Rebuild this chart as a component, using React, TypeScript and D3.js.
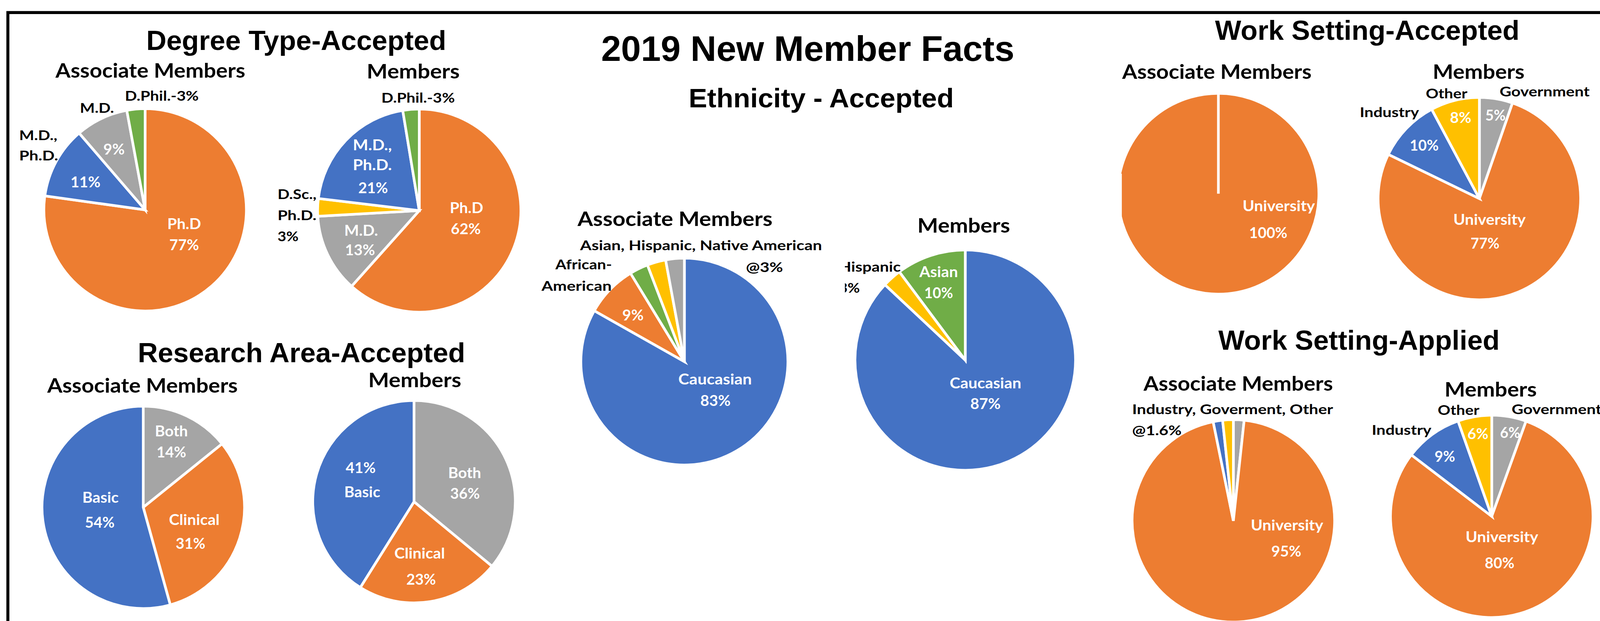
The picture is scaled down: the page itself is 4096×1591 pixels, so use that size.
import React from "react";
import * as d3 from "d3";

// colours (Office palette)
const ORANGE = "#ED7D31";
const BLUE = "#4472C4";
const GRAY = "#A5A5A5";
const YELLOW = "#FFC000";
const GREEN = "#70AD47";

// ---- data (clockwise from 12 o'clock) ----
const degreeAssocCategories = ["Ph.D", "M.D., Ph.D.", "M.D.", "D.Phil."];
const degreeAssocValues = [77.2, 11.5, 8.4, 2.9];

const degreeMemberCategories = ["Ph.D", "M.D.", "D.Sc., Ph.D.", "M.D., Ph.D.", "D.Phil."];
const degreeMemberValues = [61.6, 12.5, 2.8, 20.5, 2.6];

const researchCategories = ["Both", "Clinical", "Basic"];
const researchAssocValues = [14.2, 31.5, 54.3];
const researchMemberValues = [36, 22.9, 41.1];

const ethnicityAssocCategories = ["Caucasian", "African-American", "Asian", "Hispanic", "Native American"];
const ethnicityAssocValues = [83.1, 8.1, 2.9, 2.9, 2.9];
const ethnicityMemberCategories = ["Caucasian", "Hispanic", "Asian"];
const ethnicityMemberValues = [87, 2.8, 10.2];

const workCategories = ["Government", "University", "Industry", "Other"];
const workAcceptedAssocCategories = ["University"];
const workAcceptedAssocValues = [100];
const workAcceptedMemberValues = [5.3, 76.9, 10, 7.8];
const workAppliedAssocValues = [1.7, 95.1, 1.5, 1.7];
const workAppliedMemberValues = [5.5, 79.9, 9.2, 5.4];

const colorOf: Record<string, string> = {
  "Ph.D": ORANGE,
  "M.D., Ph.D.": BLUE,
  "M.D.": GRAY,
  "D.Phil.": GREEN,
  "D.Sc., Ph.D.": YELLOW,
  Both: GRAY,
  Clinical: ORANGE,
  Basic: BLUE,
  Caucasian: BLUE,
  "African-American": ORANGE,
  Asian: GREEN,
  Hispanic: YELLOW,
  "Native American": GRAY,
  Government: GRAY,
  University: ORANGE,
  Industry: BLUE,
  Other: YELLOW,
};

const TITLE_FONT = "'Liberation Sans', Arial, sans-serif";
const LABEL_FONT = "Lato, 'Open Sans', sans-serif";
const SIZE = { s: 53, b: 36, w: 39 } as const;

type Lbl = { t: string; x: number; y: number; w: number; a?: "start" | "middle" | "end"; k: "s" | "b" | "w"; clip?: string };

// ---- layout (reference pixel space) ----
const titles = [
  { t: "2019 New Member Facts", x: 2154, y: 163, w: 1102, size: 95 },
  { t: "Degree Type-Accepted", x: 790, y: 133, w: 800, size: 74 },
  { t: "Research Area-Accepted", x: 804, y: 967, w: 873, size: 74 },
  { t: "Ethnicity - Accepted", x: 2190, y: 286, w: 707, size: 72 },
  { t: "Work Setting-Accepted", x: 3646, y: 106, w: 812, size: 74 },
  { t: "Work Setting-Applied", x: 3624, y: 933, w: 750, size: 74 },
];

const pies = [
  { cx: 387, cy: 560, r: 270, cats: degreeAssocCategories, vals: degreeAssocValues },
  { cx: 1118, cy: 562, r: 271, cats: degreeMemberCategories, vals: degreeMemberValues },
  { cx: 382, cy: 1354, r: 270, cats: researchCategories, vals: researchAssocValues },
  { cx: 1104, cy: 1339, r: 270, cats: researchCategories, vals: researchMemberValues },
  { cx: 1825, cy: 965, r: 276, cats: ethnicityAssocCategories, vals: ethnicityAssocValues },
  { cx: 2574, cy: 961, r: 294, cats: ethnicityMemberCategories, vals: ethnicityMemberValues },
  { cx: 3249, cy: 517, r: 268, cats: workAcceptedAssocCategories, vals: workAcceptedAssocValues },
  { cx: 3945, cy: 530, r: 270, cats: workCategories, vals: workAcceptedMemberValues },
  { cx: 3289, cy: 1390, r: 270, cats: workCategories, vals: workAppliedAssocValues },
  { cx: 3978, cy: 1378, r: 270, cats: workCategories, vals: workAppliedMemberValues },
];

const labels: Lbl[] = [
  // degree
  { t: "Associate Members", x: 401, y: 207, w: 506, k: "s" },
  { t: "Members", x: 1102, y: 209, w: 248, k: "s" },
  { t: "D.Phil.-3%", x: 333, y: 269, w: 197, a: "start", k: "b" },
  { t: "M.D.", x: 213, y: 301, w: 91, a: "start", k: "b" },
  { t: "M.D.,", x: 51, y: 374, w: 102, a: "start", k: "b" },
  { t: "Ph.D.", x: 51, y: 428, w: 104, a: "start", k: "b" },
  { t: "9%", x: 304, y: 413, w: 57, k: "w" },
  { t: "11%", x: 228, y: 500, w: 80, k: "w" },
  { t: "Ph.D", x: 491, y: 611, w: 90, k: "w" },
  { t: "77%", x: 491, y: 668, w: 79, k: "w" },
  { t: "D.Phil.-3%", x: 1017, y: 274, w: 196, a: "start", k: "b" },
  { t: "M.D.,", x: 993, y: 401, w: 104, k: "w" },
  { t: "Ph.D.", x: 993, y: 454, w: 104, k: "w" },
  { t: "21%", x: 995, y: 516, w: 79, k: "w" },
  { t: "Ph.D", x: 1244, y: 569, w: 89, k: "w" },
  { t: "62%", x: 1242, y: 625, w: 80, k: "w" },
  { t: "M.D.", x: 963, y: 629, w: 90, k: "w" },
  { t: "13%", x: 960, y: 681, w: 80, k: "w" },
  { t: "D.Sc.,", x: 740, y: 531, w: 104, a: "start", k: "b" },
  { t: "Ph.D.", x: 740, y: 587, w: 104, a: "start", k: "b" },
  { t: "3%", x: 740, y: 644, w: 56, a: "start", k: "b" },
  // research
  { t: "Associate Members", x: 380, y: 1048, w: 508, k: "s" },
  { t: "Members", x: 1106, y: 1033, w: 248, k: "s" },
  { t: "Both", x: 457, y: 1165, w: 88, k: "w" },
  { t: "14%", x: 457, y: 1221, w: 79, k: "w" },
  { t: "Basic", x: 268, y: 1342, w: 97, k: "w" },
  { t: "54%", x: 266, y: 1408, w: 79, k: "w" },
  { t: "Clinical", x: 518, y: 1401, w: 135, k: "w" },
  { t: "31%", x: 508, y: 1465, w: 79, k: "w" },
  { t: "41%", x: 962, y: 1262, w: 80, k: "w" },
  { t: "Basic", x: 966, y: 1327, w: 96, k: "w" },
  { t: "Both", x: 1239, y: 1276, w: 88, k: "w" },
  { t: "36%", x: 1240, y: 1331, w: 79, k: "w" },
  { t: "Clinical", x: 1119, y: 1491, w: 135, k: "w" },
  { t: "23%", x: 1123, y: 1560, w: 79, k: "w" },
  // ethnicity
  { t: "Associate Members", x: 1800, y: 603, w: 520, k: "s" },
  { t: "Members", x: 2570, y: 621, w: 247, k: "s" },
  { t: "Asian, Hispanic, Native American", x: 1547, y: 668, w: 645, a: "start", k: "b" },
  { t: "@3%", x: 1989, y: 726, w: 99, a: "start", k: "b" },
  { t: "African-", x: 1632, y: 719, w: 151, a: "end", k: "b" },
  { t: "American", x: 1631, y: 776, w: 187, a: "end", k: "b" },
  { t: "9%", x: 1688, y: 855, w: 57, k: "w" },
  { t: "Caucasian", x: 1907, y: 1026, w: 196, k: "w" },
  { t: "83%", x: 1908, y: 1083, w: 81, k: "w" },
  { t: "Asian", x: 2503, y: 740, w: 103, k: "w" },
  { t: "10%", x: 2503, y: 796, w: 77, k: "w" },
  { t: "Hispanic", x: 2237, y: 725, w: 165, a: "start", k: "b", clip: "url(#hispClip)" },
  { t: "3%", x: 2237, y: 781, w: 56, a: "start", k: "b", clip: "url(#hispClip)" },
  { t: "Caucasian", x: 2628, y: 1036, w: 191, k: "w" },
  { t: "87%", x: 2628, y: 1092, w: 81, k: "w" },
  // work setting accepted
  { t: "Associate Members", x: 3245, y: 210, w: 505, k: "s" },
  { t: "Members", x: 3943, y: 210, w: 245, k: "s" },
  { t: "University", x: 3410, y: 564, w: 193, k: "w" },
  { t: "100%", x: 3382, y: 635, w: 102, k: "w" },
  { t: "Government", x: 3999, y: 257, w: 240, a: "start", k: "b" },
  { t: "Other", x: 3802, y: 262, w: 111, a: "start", k: "b" },
  { t: "Industry", x: 3626, y: 313, w: 158, a: "start", k: "b" },
  { t: "8%", x: 3895, y: 328, w: 57, k: "w" },
  { t: "5%", x: 3988, y: 322, w: 54, k: "w" },
  { t: "10%", x: 3798, y: 402, w: 77, k: "w" },
  { t: "University", x: 3972, y: 600, w: 193, k: "w" },
  { t: "77%", x: 3960, y: 664, w: 77, k: "w" },
  // work setting applied
  { t: "Associate Members", x: 3302, y: 1043, w: 505, k: "s" },
  { t: "Members", x: 3975, y: 1058, w: 246, k: "s" },
  { t: "Industry, Goverment, Other", x: 3019, y: 1105, w: 536, a: "start", k: "b" },
  { t: "@1.6%", x: 3019, y: 1161, w: 132, a: "start", k: "b" },
  { t: "University", x: 3432, y: 1416, w: 193, k: "w" },
  { t: "95%", x: 3430, y: 1485, w: 80, k: "w" },
  { t: "Government", x: 4031, y: 1105, w: 240, a: "start", k: "b" },
  { t: "Other", x: 3834, y: 1107, w: 111, a: "start", k: "b" },
  { t: "Industry", x: 3658, y: 1160, w: 159, a: "start", k: "b" },
  { t: "6%", x: 3941, y: 1172, w: 56, k: "w" },
  { t: "6%", x: 4027, y: 1169, w: 54, k: "w" },
  { t: "9%", x: 3853, y: 1232, w: 55, k: "w" },
  { t: "University", x: 4005, y: 1447, w: 194, k: "w" },
  { t: "80%", x: 3999, y: 1517, w: 79, k: "w" },
];

function Pie({ cx, cy, r, cats, vals }: { cx: number; cy: number; r: number; cats: string[]; vals: number[] }) {
  const arcs = d3.pie<number>().sort(null).value((d) => d)(vals);
  const arc = d3.arc<d3.PieArcDatum<number>>().innerRadius(0).outerRadius(r);
  return (
    <g transform={`translate(${cx},${cy})`}>
      {arcs.map((a, i) => (
        <path key={i} d={arc(a) || ""} fill={colorOf[cats[i]]} stroke="#fff" strokeWidth={7} />
      ))}
      {arcs
        .filter((a) => a.endAngle - a.startAngle >= 2 * Math.PI - 1e-6)
        .map((a, i) => (
          <line
            key={"sep" + i}
            x1={0}
            y1={0}
            x2={r * Math.sin(a.startAngle)}
            y2={-r * Math.cos(a.startAngle)}
            stroke="#fff"
            strokeWidth={7}
          />
        ))}
    </g>
  );
}

export default function App() {
  return (
    <svg
      width={4096}
      height={1591}
      style={{ position: "absolute", left: 0, top: 0, display: "block", background: "#fff" }}
    >
      <defs>
        <clipPath id="hispClip">
          <rect x={2253} y={650} width={300} height={180} />
        </clipPath>
      </defs>
      <g transform="scale(0.96)">
        <rect x={0} y={0} width={4266} height={1657} fill="#fff" />
        {pies.map((p, i) => (
          <Pie key={i} {...p} />
        ))}
        {/* clipped left edge of the 100% pie */}
        <rect x={2960} y={463.5} width={31.5} height={220} fill="#fff" />
        <rect x={21} y={33.5} width={4400} height={1800} fill="none" stroke="#000" strokeWidth={8} />
        {titles.map((t, i) => (
          <text
            key={"t" + i}
            x={t.x}
            y={t.y}
            fontFamily={TITLE_FONT}
            fontWeight="bold"
            fontSize={t.size}
            textAnchor="middle"
            textLength={t.w}
            lengthAdjust="spacingAndGlyphs"
          >
            {t.t}
          </text>
        ))}
        {labels.map((l, i) => (
          <text
            key={"l" + i}
            x={l.x}
            y={l.y}
            fontFamily={LABEL_FONT}
            fontWeight="bold"
            fontSize={SIZE[l.k]}
            fill={l.k === "w" ? "#fff" : "#000"}
            textAnchor={l.a || "middle"}
            textLength={l.w}
            lengthAdjust="spacingAndGlyphs"
            clipPath={l.clip}
          >
            {l.t}
          </text>
        ))}
      </g>
    </svg>
  );
}
